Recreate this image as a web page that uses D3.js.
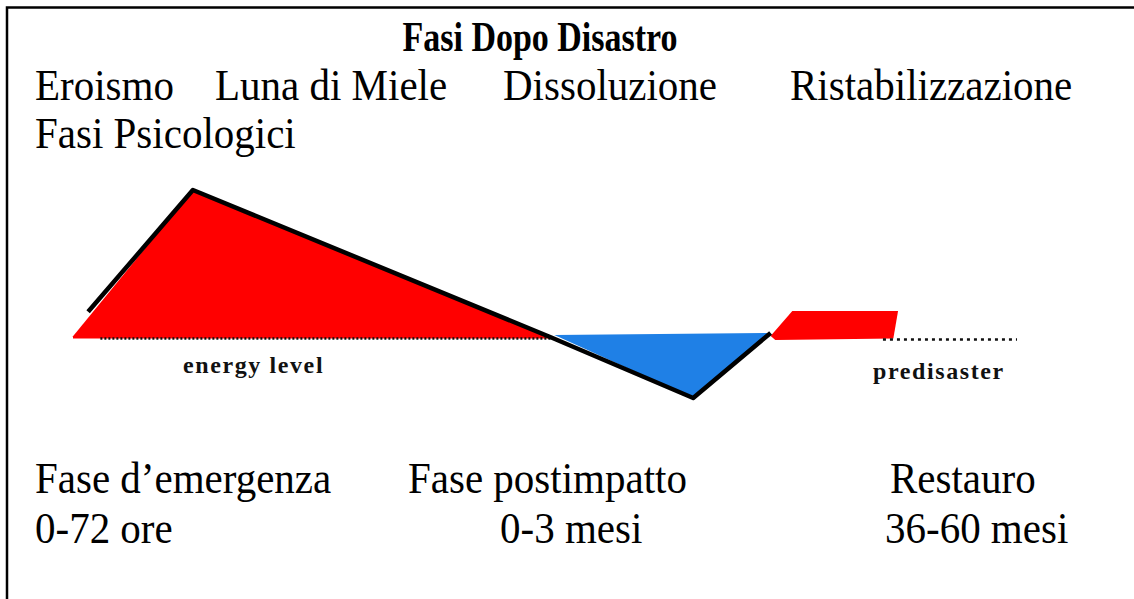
<!DOCTYPE html>
<meta charset="utf-8">
<style>
html, body{ margin:0; background:#fff; overflow:hidden; }
svg{ display:block; }
svg text{ font-family:"Liberation Serif","Times New Roman",serif; fill:#000; }
.title{ font-weight:bold; font-size:34px; }
.big{ font-size:41px; }
.small{ font-weight:bold; font-size:24px; letter-spacing:1.6px; fill:#111; }
</style>
<body>
<script src="https://cdn.jsdelivr.net/npm/d3@7"></script>
<script>

var width = 1134,
    height = 599;

// phase names across the top, stage names and durations at the bottom
var phaseLabels = ["Eroismo","Luna di Miele","Dissoluzione","Ristabilizzazione"];
var phaseX = [35, 215, 503, 790];
var stageLabels = ["Fase d\u2019emergenza","Fase postimpatto","Restauro"];
var stageX = [35, 408, 890];
var durationLabels = ["0-72 ore","0-3 mesi","36-60 mesi"];
var durationX = [35, 500, 885];

// energy curve (time index 0-100, energy relative to predisaster level 0)
var curveT = [1.6, 12.7, 50.8, 65.7, 73.9];
var curveE = [18, 100, 0.4, -40, 3.8];

// filled areas
var highT = [0, 12.7, 50.8, 50.8, 0];
var highE = [1.5, 100, 0.4, 0, 0];
var lowT = [51, 73.9, 65.7];
var lowE = [2.4, 3.8, -40];
var recoverT = [73.9, 76.2, 87.4, 86.9, 74.4];
var recoverE = [1.7, 18.6, 18.6, 0, -0.9];

// dotted predisaster level
var levelSegments = [[2.9, 51], [85.8, 100]];

var svg = d3.select("body").append("svg")
    .attr("width", width)
    .attr("height", height);

// frame (top and left edge only)
svg.append("path")
    .attr("d", "M7,599V7.5H1134")
    .attr("fill", "none")
    .attr("stroke", "#000")
    .attr("stroke-width", 2.5);

var x = d3.scaleLinear().domain([0, 100]).range([73, 1017]);
var y = d3.scaleLinear().domain([-40, 100]).range([398, 190]);

function pts(ts, es){
    return ts.map(function(t, i){ return [x(t), y(es[i])]; });
}

var line = d3.line();

svg.append("path")
    .attr("d", line(pts(highT, highE)) + "Z")
    .attr("fill", "#ff0000");

svg.append("path")
    .attr("d", line(pts(lowT, lowE)) + "Z")
    .attr("fill", "#1f80e6");

svg.append("path")
    .attr("d", line(pts(recoverT, recoverE)) + "Z")
    .attr("fill", "#ff0000");

svg.selectAll(".level")
    .data(levelSegments)
    .enter().append("line")
    .attr("class", "level")
    .attr("x1", function(d){ return x(d[0]); })
    .attr("x2", function(d){ return x(d[1]); })
    .attr("y1", function(d, i){ return y(0) + i; })
    .attr("y2", function(d, i){ return y(0) + i; })
    .attr("stroke", "#111")
    .attr("stroke-width", 2.5)
    .attr("stroke-dasharray", function(d, i){ return i ? "3,4" : "2,2"; });

svg.append("path")
    .attr("d", line(pts(curveT, curveE)))
    .attr("fill", "none")
    .attr("stroke", "#000")
    .attr("stroke-width", 4.5)
    .attr("stroke-linejoin", "round");

svg.append("text").attr("class", "small")
    .attr("x", 183).attr("y", 373).text("energy level");
svg.append("text").attr("class", "small")
    .attr("x", 873).attr("y", 379).text("predisaster");

svg.append("text").attr("class", "title")
    .attr("text-anchor", "middle")
    .attr("transform", "translate(540,51) scale(1,1.22)")
    .text("Fasi Dopo Disastro");

function bigText(sel, yPos){
    sel.attr("class", "big")
        .attr("transform", function(d){ return "translate(" + d.x + "," + yPos + ") scale(1,1.08)"; })
        .text(function(d){ return d.label; });
}

svg.selectAll(".phase")
    .data(phaseLabels.map(function(l, i){ return {label: l, x: phaseX[i]}; }))
    .enter().append("text")
    .call(bigText, 100);

svg.selectAll(".psy")
    .data([{label: "Fasi Psicologici", x: 35}])
    .enter().append("text")
    .call(bigText, 148);

svg.selectAll(".stage")
    .data(stageLabels.map(function(l, i){ return {label: l, x: stageX[i]}; }))
    .enter().append("text")
    .call(bigText, 493);

svg.selectAll(".duration")
    .data(durationLabels.map(function(l, i){ return {label: l, x: durationX[i]}; }))
    .enter().append("text")
    .call(bigText, 543);

</script>
